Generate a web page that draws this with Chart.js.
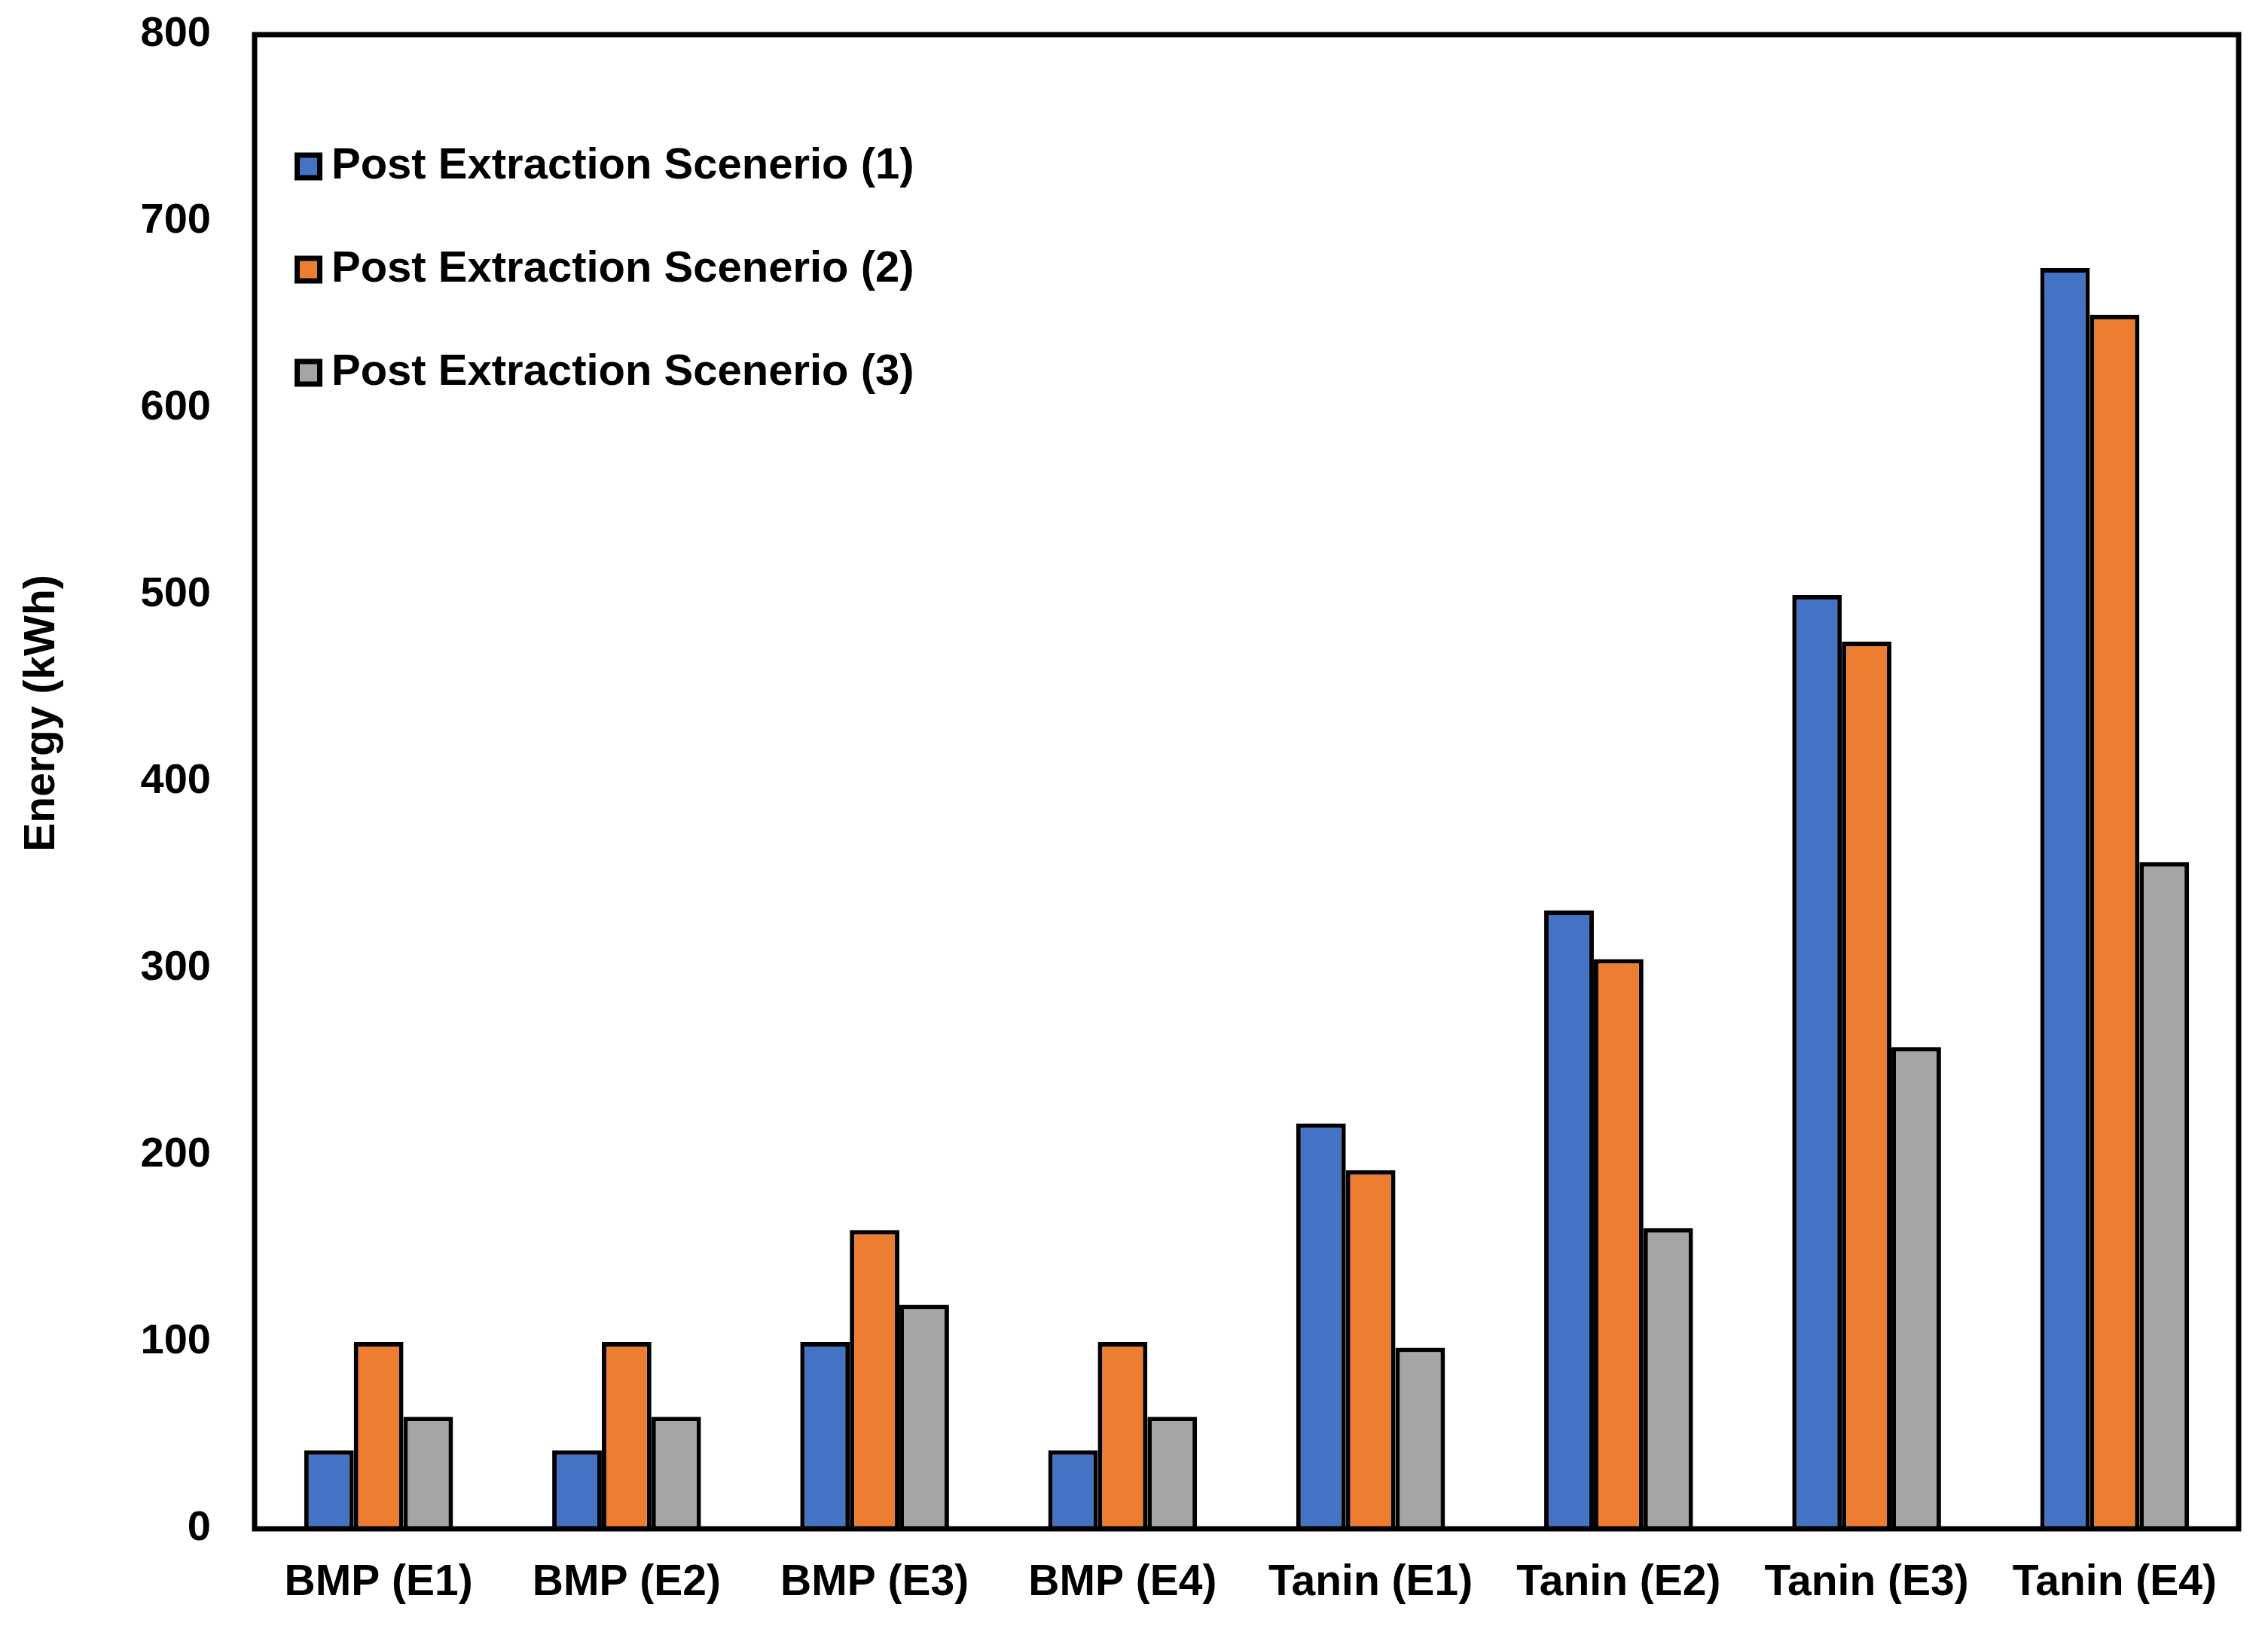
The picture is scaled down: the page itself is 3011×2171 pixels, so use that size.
<!DOCTYPE html>
<html>
<head>
<meta charset="utf-8">
<script src="https://cdn.jsdelivr.net/npm/chart.js@4.4.1/dist/chart.umd.min.js"></script>
<style>
  body { margin: 0; background: #fff; }
</style>
</head>
<body>
<canvas id="myChart" width="3011" height="2171"></canvas>
<script>
const categories = ['BMP (E1)', 'BMP (E2)', 'BMP (E3)', 'BMP (E4)', 'Tanin (E1)', 'Tanin (E2)', 'Tanin (E3)', 'Tanin (E4)'];
const seriesLabels = ['Post Extraction Scenerio (1)', 'Post Extraction Scenerio (2)', 'Post Extraction Scenerio (3)'];
const scenario1 = [42, 42, 100, 42, 217, 331, 500, 675];
const scenario2 = [100, 100, 160, 100, 192, 305, 475, 650];
const scenario3 = [60, 60, 120, 60, 97, 161, 258, 357];
const yTicks = [0, 100, 200, 300, 400, 500, 600, 700, 800];
const yTitle = 'Energy (kWh)';

const FONT = '"Liberation Sans", Arial, sans-serif';

// black frame round the plot area
const framePlugin = {
    id: 'frame',
    afterDatasetsDraw(chart) {
        const ctx = chart.ctx;
        const a = chart.chartArea;
        ctx.save();
        ctx.strokeStyle = '#000';
        ctx.lineWidth = 7;
        ctx.strokeRect(a.left, a.top, a.right - a.left, a.bottom - a.top);
        ctx.restore();
    }
};

// legend sits inside the plot, top left
const legendPlugin = {
    id: 'insideLegend',
    afterDraw(chart) {
        const ctx = chart.ctx;
        const a = chart.chartArea;
        ctx.save();
        ctx.font = 'bold 58px ' + FONT;
        ctx.textBaseline = 'middle';
        ctx.textAlign = 'left';
        chart.data.datasets.forEach((ds, i) => {
            const cy = a.top + 175 + i * 137;
            const bx = a.left + 56.5;
            ctx.fillStyle = ds.backgroundColor;
            ctx.fillRect(bx, cy - 15, 30, 30);
            ctx.lineWidth = 7;
            ctx.strokeStyle = '#000';
            ctx.strokeRect(bx, cy - 15, 30, 30);
            ctx.fillStyle = '#000';
            ctx.fillText(ds.label, a.left + 102, cy);
        });
        ctx.restore();
    }
};

// y axis title, placed a bit above the middle like the original
const yTitlePlugin = {
    id: 'yTitle',
    afterDraw(chart) {
        const ctx = chart.ctx;
        ctx.save();
        ctx.translate(56, 947);
        ctx.rotate(-Math.PI / 2);
        ctx.font = 'bold 57px ' + FONT;
        ctx.fillStyle = '#000';
        ctx.textAlign = 'center';
        ctx.textBaseline = 'middle';
        ctx.fillText(yTitle, 0, 0);
        ctx.restore();
    }
};

let ctx = document.getElementById('myChart').getContext('2d');

let wykres = new Chart(ctx, {
    type: 'bar',
    data: {
        labels: categories,
        datasets: [
            { label: seriesLabels[0], data: scenario1, backgroundColor: '#4472C4' },
            { label: seriesLabels[1], data: scenario2, backgroundColor: '#ED7D31' },
            { label: seriesLabels[2], data: scenario3, backgroundColor: '#A5A5A5' }
        ]
    },
    options: {
        responsive: false,
        animation: false,
        devicePixelRatio: 1,
        layout: { padding: { top: 46, right: 39, left: 0, bottom: 0 } },
        datasets: {
            bar: {
                borderColor: '#000',
                borderWidth: 6,
                barPercentage: 1,
                categoryPercentage: 0.6
            }
        },
        plugins: {
            legend: { display: false },
            tooltip: { enabled: false }
        },
        scales: {
            x: {
                grid: { display: false },
                border: { display: false },
                ticks: {
                    color: '#000',
                    padding: 30,
                    maxRotation: 0,
                    font: { family: FONT, size: 57, weight: 'bold' }
                },
                afterFit(scale) { scale.height = 141; }
            },
            y: {
                min: 0,
                max: 800,
                grid: { display: false },
                border: { display: false },
                afterBuildTicks(scale) { scale.ticks = yTicks.map(v => ({ value: v })); },
                ticks: {
                    color: '#000',
                    padding: 50,
                    font: { family: FONT, size: 56, weight: 'bold' }
                },
                afterFit(scale) {
                    scale.width = 338;
                    // tick padding would otherwise push the plot top down
                    scale.paddingTop = 0;
                    scale.paddingBottom = 0;
                }
            }
        }
    },
    plugins: [framePlugin, legendPlugin, yTitlePlugin]
});
</script>
</body>
</html>
